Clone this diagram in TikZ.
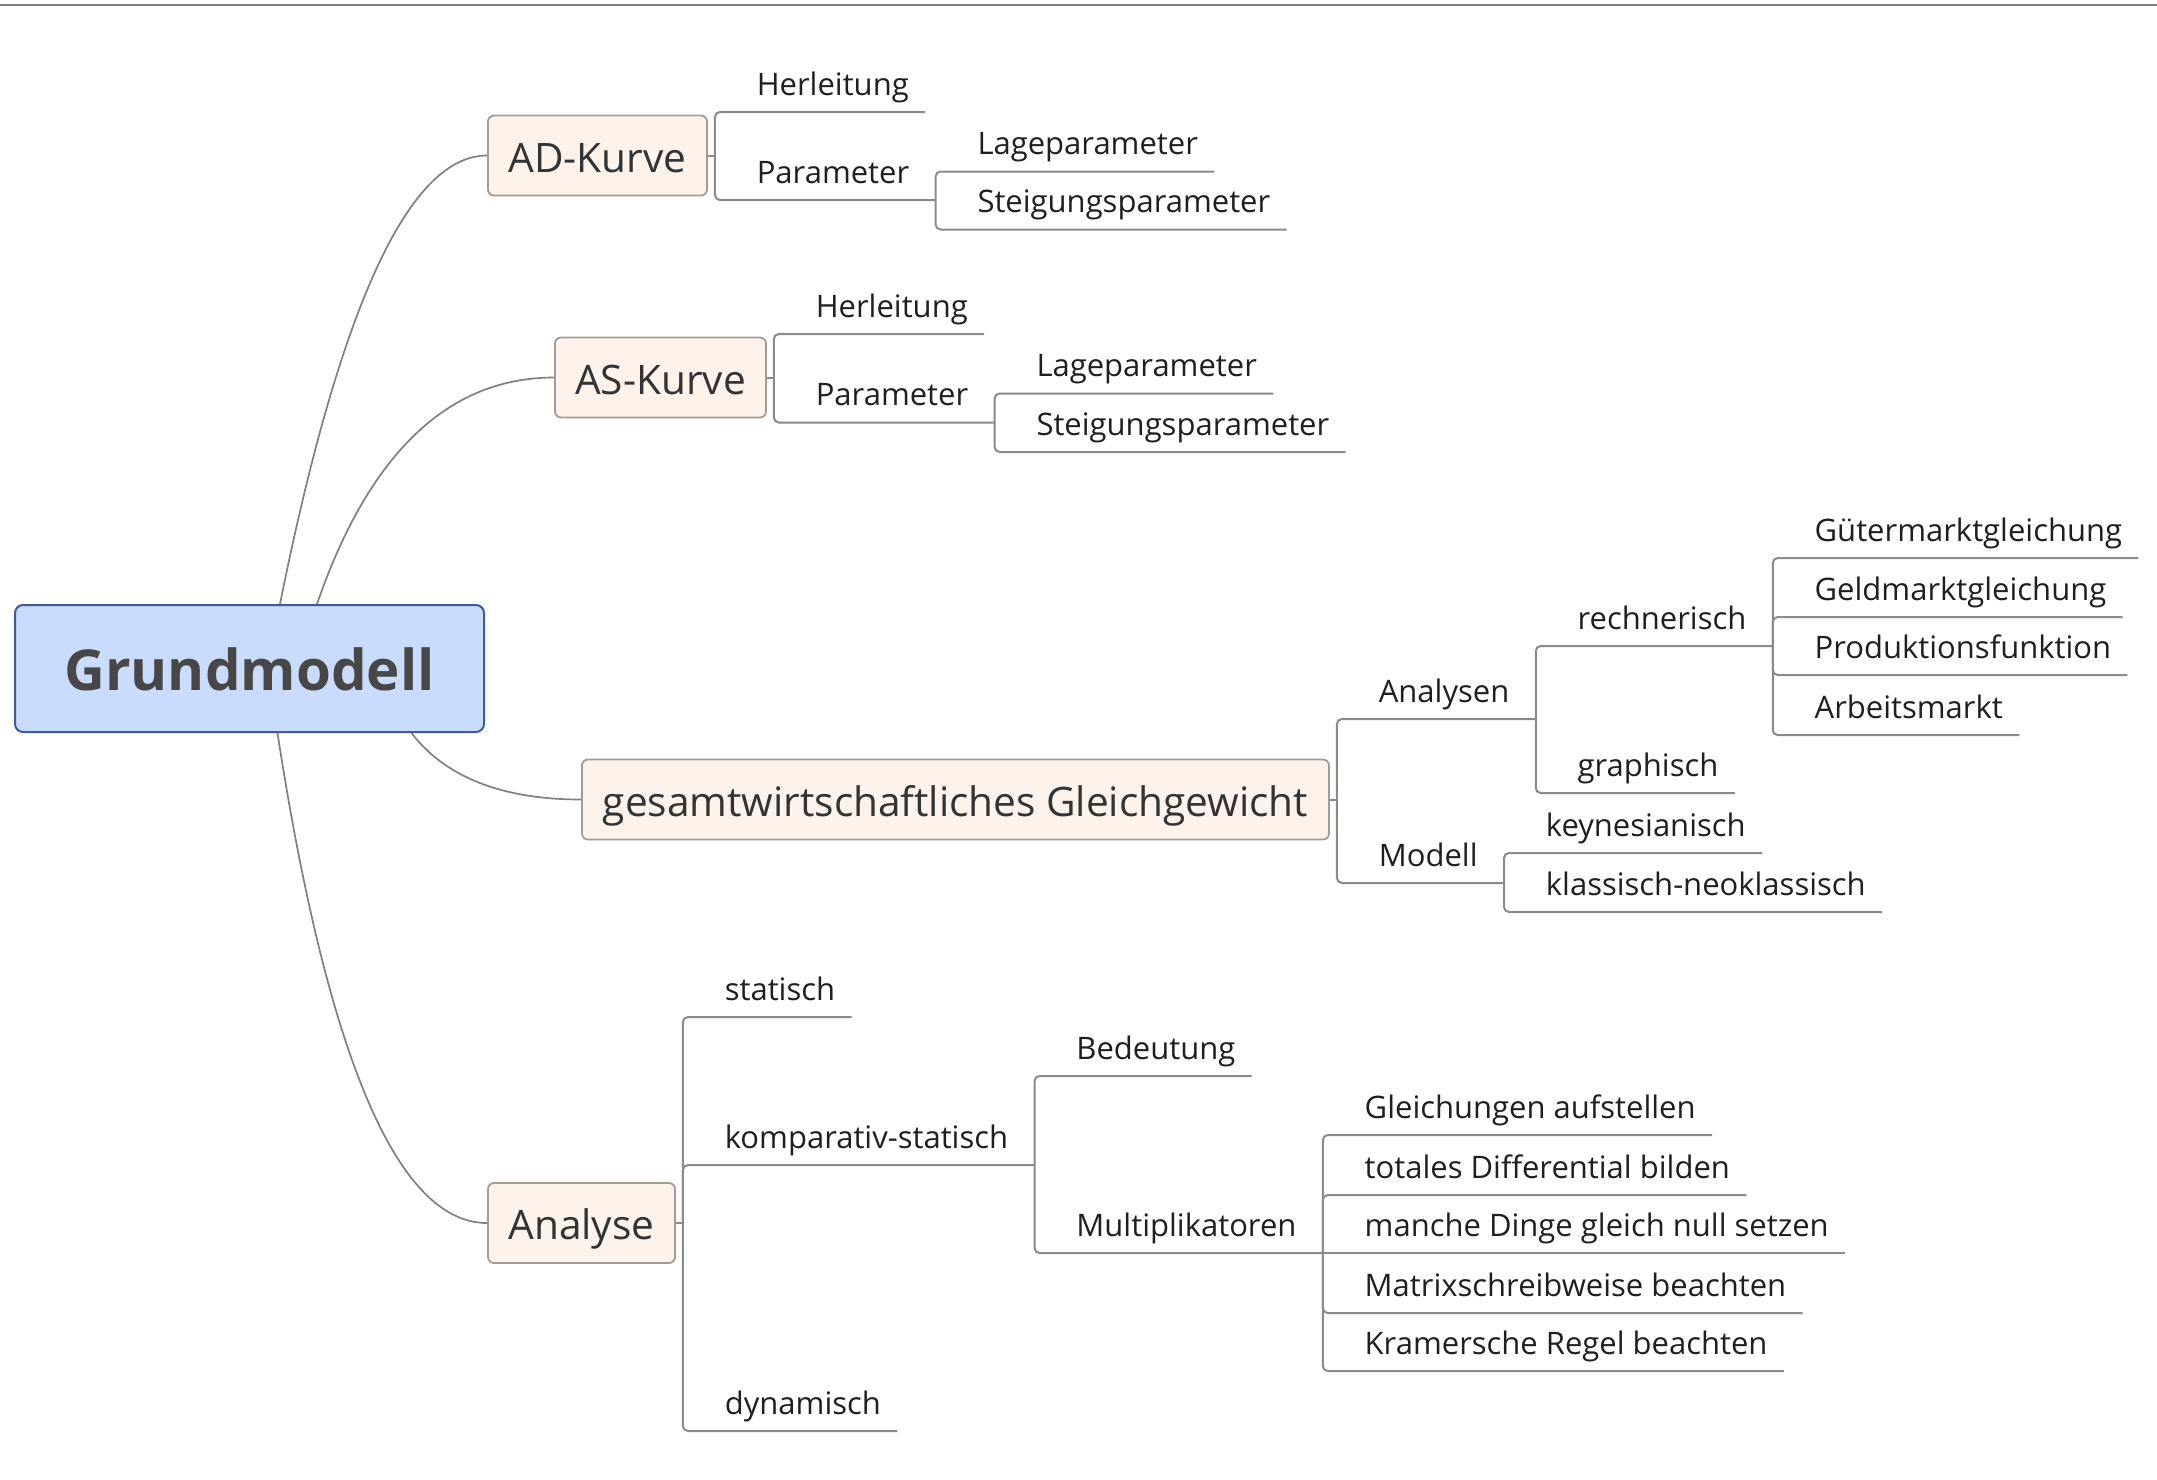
\documentclass[tikz,border=0pt]{standalone}
\usepackage{fontspec}
\setmainfont{Open Sans}
\definecolor{rootfill}{HTML}{C9DCFB}
\definecolor{rootdraw}{HTML}{3D5A99}
\definecolor{roottxt}{HTML}{474747}
\definecolor{topfill}{HTML}{FDF3EA}
\definecolor{topdraw}{HTML}{A39C94}
\definecolor{toptxt}{HTML}{333333}
\definecolor{subtxt}{HTML}{1F1F1F}
\definecolor{linec}{HTML}{8A8A8A}
\definecolor{curvec}{HTML}{808080}
\begin{document}
\begin{tikzpicture}[x=0.5pt,y=-0.5pt,
  root/.style={draw=rootdraw, fill=rootfill, line width=1pt, rounded corners=4pt,
    minimum height=63.5pt, inner sep=0pt, text height=25.5pt, text depth=4pt,
    font=\fontsize{28.2}{34}\selectfont\bfseries, text=roottxt},
  topic/.style={draw=topdraw, fill=topfill, line width=0.9pt, rounded corners=3pt,
    minimum height=40pt, inner sep=0pt, text height=20.5pt, text depth=4pt,
    font=\fontsize{20.3}{24}\selectfont, text=toptxt},
  cnode/.style={anchor=south west, inner sep=0pt, text height=12pt, text depth=8.25pt,
    font=\fontsize{15.5}{18}\selectfont, text=subtxt},
  leafn/.style={cnode, execute at begin node={\hspace*{20.75pt}}, execute at end node={\hspace*{8pt}}},
  midn/.style={cnode, execute at begin node={\hspace*{20.75pt}}, execute at end node={\hspace*{13pt}}},
  branch/.style={draw=linec, line width=1pt, rounded corners=2.5pt},
  curve/.style={draw=curvec, line width=0.85pt},
  topline/.style={draw=curvec, line width=1pt},
]
\useasboundingbox (0,0) rectangle (2157,1479);
\fill[white] (0,0) rectangle (2157,1479);
\draw[topline] (0,5) -- (2157,5);

% main topics
\node[root, minimum width=234.5pt] (G) at (249.5,668.5) {Grundmodell};
\node[topic, minimum width=109.5pt] (AD) at (597.5,155.5) {AD-Kurve};
\node[topic, minimum width=105.5pt] (AS) at (660.5,377.5) {AS-Kurve};
\node[topic, minimum width=373.5pt] (GG) at (955.5,799.5) {gesamtwirtschaftliches Gleichgewicht};
\node[topic, minimum width=93.5pt] (AN) at (581.5,1223) {Analyse};

% curves from root
\coordinate (sAD) at ([xshift=15.25pt]G.north);
\coordinate (sAS) at ([xshift=33.75pt]G.north);
\coordinate (sGG) at ([xshift=81pt]G.south);
\coordinate (sAN) at ([xshift=14pt]G.south);
\draw[curve] (sAD) .. controls (340,305.3) and (409.3,155.5) .. (AD.west);
\draw[curve] (sAS) .. controls (369,453.3) and (448.3,377.5) .. (AS.west);
\draw[curve] (sGG) .. controls (445.2,777) and (502,799.5) .. (GG.west);
\draw[curve] (sAN) .. controls (327.8,1059.3) and (398,1223) .. (AN.west);

% junctions
\coordinate (jAD) at ([xshift=3.5pt]AD.east);
\coordinate (jAS) at ([xshift=3.5pt]AS.east);
\coordinate (jGG) at ([xshift=3.5pt]GG.east);
\coordinate (jAN) at ([xshift=3.5pt]AN.east);
\draw[branch] (AD.east) -- (jAD);
\draw[branch] (AS.east) -- (jAS);
\draw[branch] (GG.east) -- (jGG);
\draw[branch] (AN.east) -- (jAN);

% AD-Kurve
\node[leafn] (ADh) at (jAD |- 0,112) {Herleitung};
\node[midn] (ADp) at (jAD |- 0,200) {Parameter};
\node[leafn] (ADl) at (ADp.south east |- 0,171.5) {Lageparameter};
\node[leafn] (ADs) at (ADp.south east |- 0,229.5) {Steigungsparameter};
\draw[branch] (jAD) |- (ADh.south east);
\draw[branch] (jAD) |- (ADp.south east);
\draw[branch] (ADp.south east) |- (ADl.south east);
\draw[branch] (ADp.south east) |- (ADs.south east);

% AS-Kurve
\node[leafn] (ASh) at (jAS |- 0,334) {Herleitung};
\node[midn] (ASp) at (jAS |- 0,422.5) {Parameter};
\node[leafn] (ASl) at (ASp.south east |- 0,393.5) {Lageparameter};
\node[leafn] (ASs) at (ASp.south east |- 0,452) {Steigungsparameter};
\draw[branch] (jAS) |- (ASh.south east);
\draw[branch] (jAS) |- (ASp.south east);
\draw[branch] (ASp.south east) |- (ASl.south east);
\draw[branch] (ASp.south east) |- (ASs.south east);

% gesamtwirtschaftliches Gleichgewicht
\node[midn] (An) at (jGG |- 0,719) {Analysen};
\node[midn] (Mo) at (jGG |- 0,883) {Modell};
\node[midn] (re) at (An.south east |- 0,646) {rechnerisch};
\node[leafn] (gr) at (An.south east |- 0,793) {graphisch};
\node[leafn] (gu) at (re.south east |- 0,558) {Gütermarktgleichung};
\node[leafn] (ge) at (re.south east |- 0,617) {Geldmarktgleichung};
\node[leafn] (pr) at (re.south east |- 0,675) {Produktionsfunktion};
\node[leafn] (ar) at (re.south east |- 0,735) {Arbeitsmarkt};
\node[leafn] (ke) at (Mo.south east |- 0,853) {keynesianisch};
\node[leafn] (kl) at (Mo.south east |- 0,912) {klassisch-neoklassisch};
\draw[branch] (jGG) |- (An.south east);
\draw[branch] (jGG) |- (Mo.south east);
\draw[branch] (An.south east) |- (re.south east);
\draw[branch] (An.south east) |- (gr.south east);
\draw[branch] (re.south east) |- (gu.south east);
\draw[branch] (re.south east) |- (ge.south east);
\draw[branch] (re.south east) |- (pr.south east);
\draw[branch] (re.south east) |- (ar.south east);
\draw[branch] (Mo.south east) |- (ke.south east);
\draw[branch] (Mo.south east) |- (kl.south east);

% Analyse
\node[leafn] (st) at (jAN |- 0,1017) {statisch};
\node[midn] (ko) at (jAN |- 0,1165) {komparativ-statisch};
\node[leafn] (dy) at (jAN |- 0,1431) {dynamisch};
\node[leafn] (be) at (ko.south east |- 0,1076) {Bedeutung};
\node[midn] (mu) at (ko.south east |- 0,1253) {Multiplikatoren};
\node[leafn] (gl) at (mu.south east |- 0,1135) {Gleichungen aufstellen};
\node[leafn] (to) at (mu.south east |- 0,1195) {totales Differential bilden};
\node[leafn] (ma) at (mu.south east |- 0,1253) {manche Dinge gleich null setzen};
\node[leafn] (mx) at (mu.south east |- 0,1313) {Matrixschreibweise beachten};
\node[leafn] (kr) at (mu.south east |- 0,1371) {Kramersche Regel beachten};
\draw[branch] (jAN) |- (st.south east);
\draw[branch] (jAN) |- (ko.south east);
\draw[branch] (jAN) |- (dy.south east);
\draw[branch] (ko.south east) |- (be.south east);
\draw[branch] (ko.south east) |- (mu.south east);
\draw[branch] (mu.south east) |- (gl.south east);
\draw[branch] (mu.south east) |- (to.south east);
\draw[branch] (mu.south east) -- (ma.south east);
\draw[branch] (mu.south east) |- (mx.south east);
\draw[branch] (mu.south east) |- (kr.south east);
\end{tikzpicture}
\end{document}
